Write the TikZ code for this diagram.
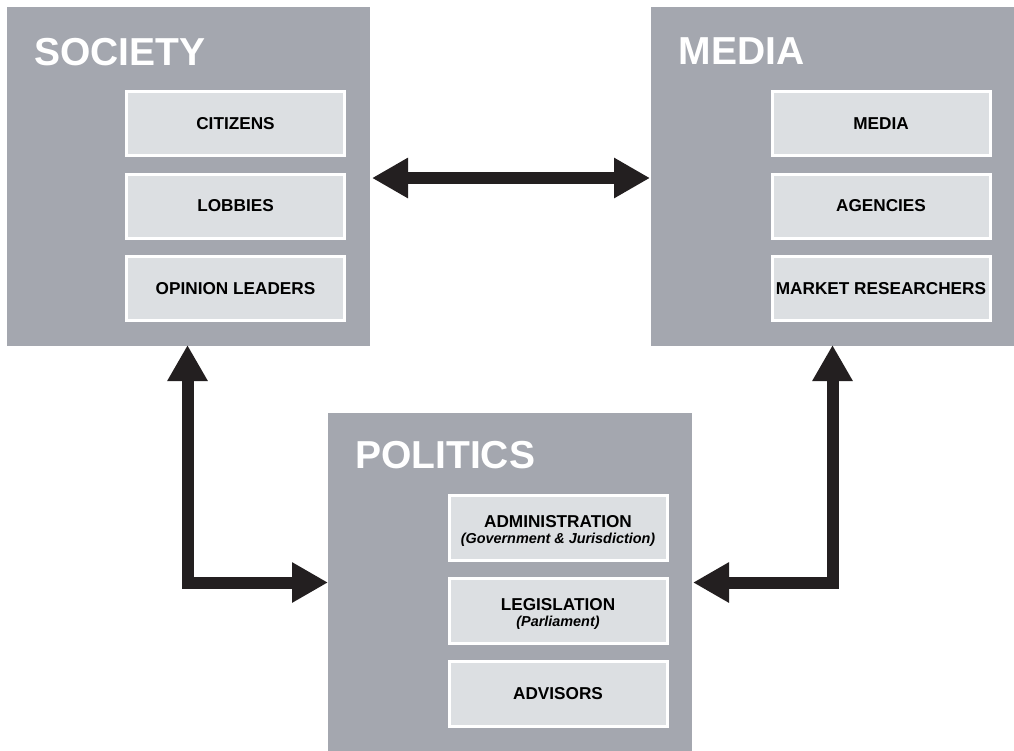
\documentclass[tikz,border=0pt]{standalone}
\usepackage{fontspec}
\setmainfont{Liberation Sans}
\usetikzlibrary{arrows.meta}
\definecolor{outergrey}{RGB}{164,167,175}
\definecolor{innergrey}{RGB}{220,223,226}
\definecolor{arrowblack}{RGB}{35,31,32}
\newcommand\mysubfont{\fontsize{14.4}{16}\selectfont\bfseries\itshape}
\newcommand\mystrut{\rule{0pt}{17pt}}
\tikzset{
  outerbox/.style={fill=outergrey, draw=none, inner sep=0pt, outer sep=0pt},
  innerbox/.style={fill=innergrey, draw=white, line width=3pt, inner sep=0pt, outer sep=0pt,
    minimum width=218pt, minimum height=64pt, align=center, text=black,
    font=\fontsize{17.2}{18}\selectfont\bfseries},
  title/.style={anchor=base west, inner sep=0pt, text=white,
    font=\fontsize{39}{40}\selectfont\bfseries},
  biarrow/.style={draw=arrowblack, line width=12pt, line join=miter,
    {Triangle[length=36pt,width=38pt]}-{Triangle[length=36pt,width=38pt]}, color=arrowblack},
}
\begin{document}
\begin{tikzpicture}[x=1pt,y=-1pt]
\useasboundingbox (0,0) rectangle (1014,750);
\begin{scope}
\clip (0,0) rectangle (1014,750);
% outer boxes
\node[outerbox, minimum width=363pt, minimum height=339pt] (society) at (188.5,176.5) {};
\node[outerbox, minimum width=363pt, minimum height=339pt] (media) at (832.5,176.5) {};
\node[outerbox, minimum width=364pt, minimum height=345pt] (politics) at (510,585.5) {};
\end{scope}
% titles
\node[title] (societytitle) at (34,65) {SOCIETY};
\node[title] (mediatitle) at (678.5,64.5) {MEDIA};
\node[title] (politicstitle) at (355,468) {POLITICS};
% society items
\node[innerbox] (citizens) at (235.5,123.5) {CITIZENS};
\node[innerbox] (lobbies) at (235.5,206) {LOBBIES};
\node[innerbox] (opinion) at (235.5,288.5) {OPINION LEADERS};
% media items
\node[innerbox] (mediaitem) at (881,123.5) {MEDIA};
\node[innerbox] (agencies) at (881,206) {AGENCIES};
\node[innerbox] (market) at (881,288.5) {MARKET RESEARCHERS};
% politics items
\node[innerbox, minimum height=65pt] (admin) at (558,528) {\mystrut ADMINISTRATION\\[-2pt]{\mysubfont (Government \& Jurisdiction)}};
\node[innerbox, minimum height=65pt] (legis) at (558,611) {\mystrut LEGISLATION\\[-2pt]{\mysubfont (Parliament)}};
\node[innerbox, minimum height=65pt] (advisors) at (558,694) {ADVISORS};
% arrows
\coordinate (hl) at (0,178);
\coordinate (lv) at (187.5,582.5);
\coordinate (rv) at (832.5,582.5);
\draw[biarrow] ([xshift=2pt]society.east |- hl) -- ([xshift=-1pt]media.west |- hl);
\draw[biarrow] ([yshift=1pt]society.south -| lv) |- (politics.west |- lv);
\draw[biarrow] ([xshift=1pt]politics.east |- rv) -| ([yshift=1pt]media.south -| rv);
\end{tikzpicture}
\end{document}
